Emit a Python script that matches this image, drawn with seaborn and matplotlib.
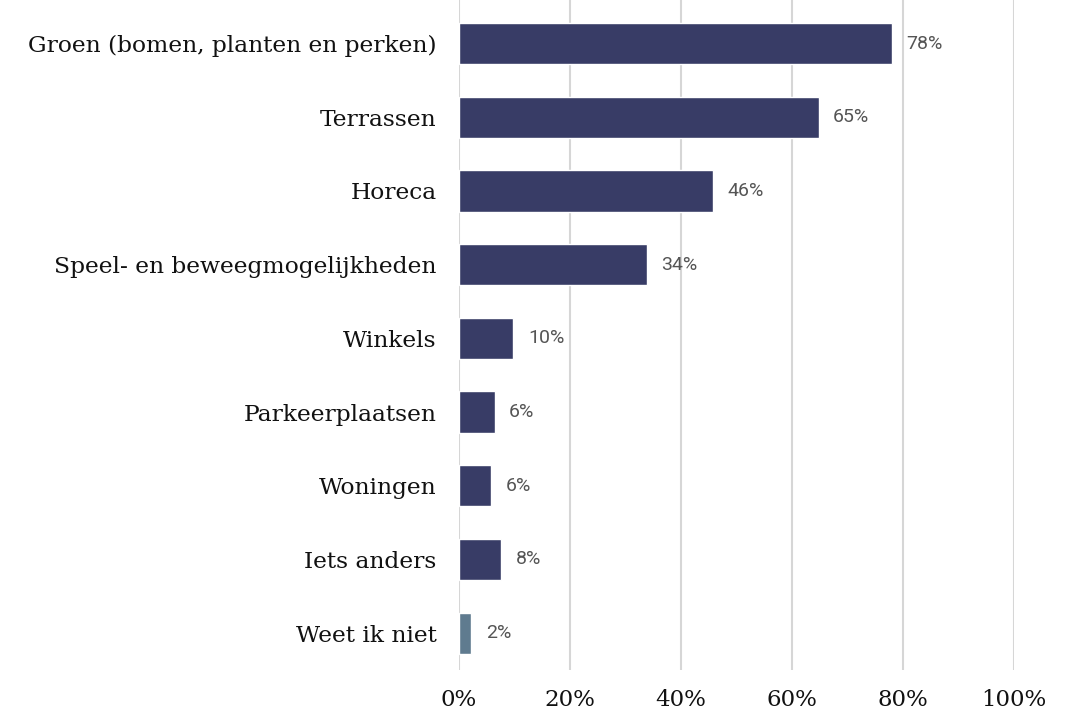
import numpy as np
import pandas as pd
import matplotlib
matplotlib.use("Agg")
import matplotlib.pyplot as plt
import seaborn as sns

# Data
categories = [
    "Groen (bomen, planten en perken)",
    "Terrassen",
    "Horeca",
    "Speel- en beweegmogelijkheden",
    "Winkels",
    "Parkeerplaatsen",
    "Woningen",
    "Iets anders",
    "Weet ik niet",
]
values = [78.0, 64.8, 45.8, 33.9, 9.8, 6.4, 5.8, 7.6, 2.2]
value_labels = ["78%", "65%", "46%", "34%", "10%", "6%", "6%", "8%", "2%"]
bar_colors = ["#383c66"] * 8 + ["#5f7b8f"]
x_ticks = [0, 20, 40, 60, 80, 100]

df = pd.DataFrame({"categorie": categories, "waarde": values})

sns.set_theme(style="white")
plt.rcParams["font.family"] = ["DejaVu Serif"]

fig = plt.figure(figsize=(10.69, 7.12), dpi=100)
ax = fig.add_axes([459 / 1069, 1 - 670 / 712, (1014 - 459) / 1069, 670 / 712])

sns.barplot(data=df, y="categorie", x="waarde", hue="categorie",
            palette=bar_colors, legend=False, width=0.56, saturation=1, ax=ax)

ax.set_xlim(0, 100)
ax.set_ylim(8.5, 8.5 - 670 / 73.7)
ax.set_xticks(x_ticks)
ax.set_xticklabels([f"{t}%" for t in x_ticks], fontsize=16.5, color="#111111")
ax.tick_params(axis="y", labelsize=16.8, labelcolor="#111111", length=0, pad=16)
ax.tick_params(axis="x", length=0, pad=14)
ax.set_xlabel("")
ax.set_ylabel("")
ax.grid(axis="x", color="#d6d6d6", linewidth=1.5)
ax.set_axisbelow(True)
for s in ax.spines.values():
    s.set_visible(False)

# Value labels next to the bars
for i, (v, lab) in enumerate(zip(values, value_labels)):
    ax.text(v + 2.6, i, lab, va="center", ha="left", fontsize=14,
            color="#555555", family="Roboto")

fig.savefig("out.png", dpi=100)
